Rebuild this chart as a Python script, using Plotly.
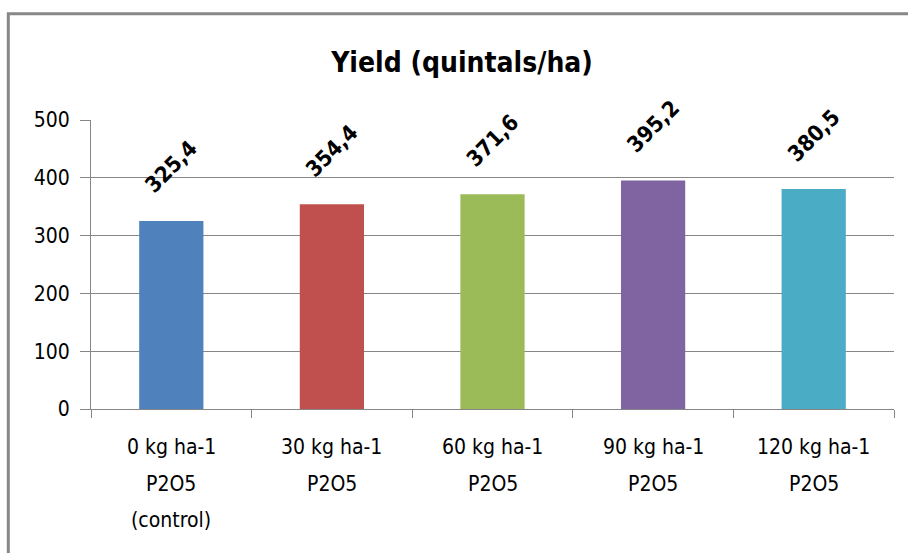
import plotly.graph_objects as go

categories = ["0 kg ha-1<br>P2O5<br>(control)", "30 kg ha-1<br>P2O5", "60 kg ha-1<br>P2O5",
              "90 kg ha-1<br>P2O5", "120 kg ha-1<br>P2O5"]
values = [325.4, 354.4, 371.6, 395.2, 380.5]
value_labels = ["325,4", "354,4", "371,6", "395,2", "380,5"]
colors = ["#4F81BD", "#C0504D", "#9BBB59", "#8064A2", "#4BACC6"]
y_ticks = [0, 100, 200, 300, 400, 500]

W, H = 908, 553
L, R, T, B = 91, 14, 120, 144
pw, ph = W - L - R, H - T - B

FONT = "Liberation Sans Narrow, DejaVu Sans Condensed, Liberation Sans, Arial, sans-serif"
GRID = "#868686"

fig = go.Figure(go.Bar(x=categories, y=values, marker=dict(color=colors, line=dict(width=0)),
                       width=0.4, hoverinfo="skip"))

annotations = []
for c, v, t in zip(categories, values, value_labels):
    annotations.append(dict(x=c, y=v, xref="x", yref="y", text="<b>%s</b>" % t, showarrow=False,
                            textangle=-45, yshift=54, font=dict(family=FONT, size=22, color="black")))
line_offsets = [38, 75, 111]
for c in categories:
    for i, line in enumerate(c.split("<br>")):
        annotations.append(dict(x=c, y=0, xref="x", yref="paper", text=line, showarrow=False,
                                yanchor="middle", yshift=-line_offsets[i],
                                font=dict(family=FONT, size=21, color="black")))

# chart border (in paper coords relative to plot area)
bx0 = (8.3 - L) / pw
by1 = 1 + (T - 13.7) / ph
bx1 = (W + 10 - L) / pw
by0 = -(B + 10) / ph

fig.update_layout(
    width=W, height=H,
    margin=dict(l=L, r=R, t=T, b=B, pad=0),
    paper_bgcolor="white", plot_bgcolor="white",
    showlegend=False,
    title=dict(text="<b>Yield (quintals/ha)</b>", x=(462) / W, xanchor="center",
               y=1 - 62 / H, yanchor="middle",
               font=dict(family=FONT, size=28, color="black")),
    xaxis=dict(showticklabels=False, ticks="outside", tickson="boundaries", ticklen=8,
               tickcolor=GRID, tickwidth=1, showline=True, linecolor=GRID, linewidth=1,
               showgrid=False, fixedrange=True),
    yaxis=dict(range=[0, 500], tickvals=y_ticks, ticktext=[str(v) for v in y_ticks],
               ticks="outside", ticklen=10, tickcolor=GRID, tickwidth=1,
               showline=True, linecolor=GRID, linewidth=1,
               showgrid=True, gridcolor=GRID, gridwidth=1, zeroline=False,
               ticklabelstandoff=6,
               tickfont=dict(family=FONT, size=21, color="black"), fixedrange=True),
    annotations=annotations,
    shapes=[dict(type="rect", xref="paper", yref="paper", x0=bx0, x1=bx1, y0=by0, y1=by1,
                 line=dict(color="#878787", width=3), fillcolor="rgba(0,0,0,0)", layer="above")],
)

fig.write_html("out.html", config={"displayModeBar": False},
               post_script="document.body.style.margin='0';")
